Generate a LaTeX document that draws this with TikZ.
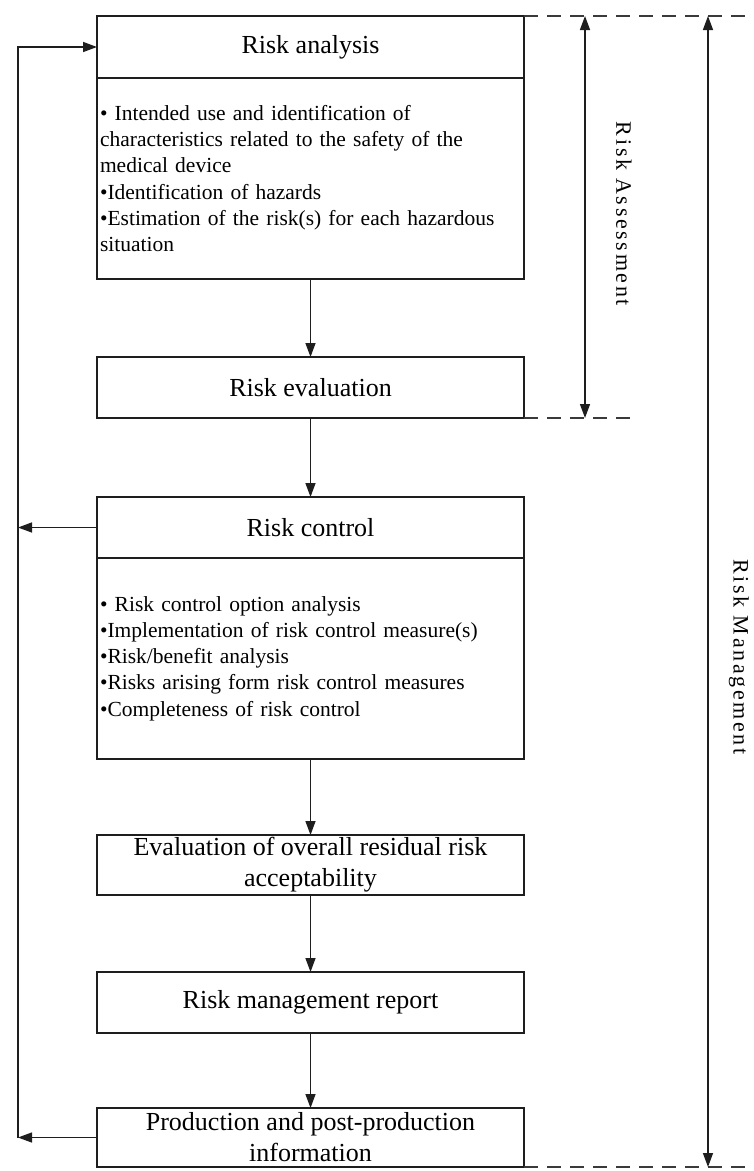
\documentclass[tikz,border=0pt]{standalone}
\usepackage{fontspec}
\setmainfont{Liberation Serif}
\newfontfamily\sidefont[LetterSpace=12]{Liberation Serif}
\usetikzlibrary{arrows.meta,positioning}
\definecolor{Ink}{HTML}{1E1E1E}
\definecolor{Dash}{HTML}{3A3A3A}
\tikzset{
  box/.style={draw=Ink, line width=1.8pt, outer sep=0pt, minimum width=427pt, inner xsep=3pt, inner ysep=0pt, align=center, font=\fontsize{26}{31}\selectfont},
  headbox/.style={box, minimum height=61pt},
  bodybox/.style={box, minimum height=201pt, text width=421pt, align=left, font=\fontsize{21.5}{26.3}\selectfont},
  arrow/.style={-{Triangle[length=14pt,width=10pt]}, line width=1.4pt, draw=Ink},
  barrow/.style={{Triangle[length=14pt,width=10pt]}-{Triangle[length=14pt,width=10pt]}, line width=1.4pt, draw=Ink},
  dline/.style={dash pattern=on 14pt off 9pt, line width=1.8pt, draw=Dash},
  sidelabel/.style={rotate=-90, inner sep=0pt, font=\sidefont\fontsize{22}{26}\selectfont}
}

\begin{document}
\begin{tikzpicture}[x=1pt, y=-1pt]
\useasboundingbox (0,0) rectangle (753,1171);
% main column
\node[headbox, minimum height=62pt] (ratitle) at (310.5,47) {Risk analysis};
\node[bodybox, below=0pt of ratitle] (rabody) {\textbullet\ Intended use and identification of\\
characteristics related to the safety of the\\
medical device\\
\textbullet Identification of hazards\\
\textbullet Estimation of the risk(s) for each hazardous\\
situation};
\node[headbox, below=78pt of rabody] (reval) {Risk evaluation};
\node[headbox, below=79pt of reval] (rctitle) {Risk control};
\node[bodybox, below=0pt of rctitle] (rcbody) {\textbullet\ Risk control option analysis\\
\textbullet Implementation of risk control measure(s)\\
\textbullet Risk/benefit analysis\\
\textbullet Risks arising form risk control measures\\
\textbullet Completeness of risk control};
\node[headbox, minimum height=60pt, below=76pt of rcbody] (eoverall) {Evaluation of overall residual risk\\acceptability};
\node[headbox, below=77pt of eoverall] (report) {Risk management report};
\node[headbox, minimum height=59pt, below=75pt of report] (prod) {Production and post-production\\information};
\draw[arrow] (rabody) -- (reval);
\draw[arrow] (reval) -- (rctitle);
\draw[arrow] (rcbody) -- (eoverall);
\draw[arrow] (eoverall) -- (report);
\draw[arrow] (report) -- (prod);
% feedback loop on the left
\coordinate (loop) at (18,0);
\draw[arrow] (prod.west) -- (prod.west -| loop);
\draw[arrow] (rctitle.west) -- (rctitle.west -| loop);
\draw[arrow] (prod.west -| loop) -- (ratitle.west -| loop) -- (ratitle.west);
% scope brackets on the right
\coordinate (asx) at (585,0);
\coordinate (mgx) at (708,0);
\coordinate (topend) at (753,16);
\coordinate (asend) at (635,418);
\coordinate (botend) at (753,1167);
\draw[dline] (ratitle.north east) -- (topend);
\draw[dline] (reval.south east) -- (asend);
\draw[dline] (prod.south east) -- (botend);
\draw[barrow] (asx |- ratitle.north) -- (asx |- reval.south);
\draw[barrow] (mgx |- ratitle.north) -- (mgx |- prod.south);
\node[sidelabel] (aslabel) at (624,214) {Risk Assessment};
\node[sidelabel] (mglabel) at (739,657) {Risk Management};
\end{tikzpicture}
\end{document}
